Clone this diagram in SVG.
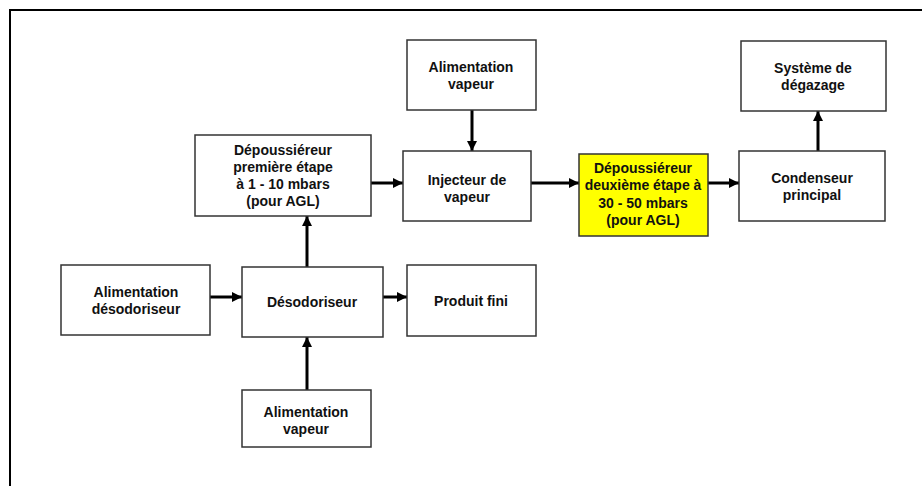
<svg xmlns="http://www.w3.org/2000/svg" width="922" height="486" viewBox="0 0 922 486">
<defs>
<style>
.box{fill:#fff;stroke:#333;stroke-width:1.5}
.hl{fill:#ffff00;stroke:#333;stroke-width:1.5}
.t{font-family:"Liberation Sans",Arial,sans-serif;font-weight:bold;font-size:14px;fill:#111;text-anchor:middle}
.c{stroke:#000;stroke-width:3;fill:none;marker-end:url(#ah)}
</style>
<marker id="ah" viewBox="0 0 10 10" refX="10" refY="5" markerWidth="3.4" markerHeight="3.4" markerUnits="strokeWidth" orient="auto">
<path d="M0,0 L10,5 L0,10 Z" fill="#000"/>
</marker>
</defs>
<rect width="922" height="486" fill="#fff"/>
<path d="M10,486 V10 H922" fill="none" stroke="#000" stroke-width="2"/>

<g id="connectors">
<path class="c" d="M472,110 V151"/>
<path class="c" d="M371,183 H403"/>
<path class="c" d="M531,183 H579"/>
<path class="c" d="M708,183 H739"/>
<path class="c" d="M818,151 V111"/>
<path class="c" d="M307,267 V216"/>
<path class="c" d="M210,297 H242"/>
<path class="c" d="M370,297 H407"/>
<path class="c" d="M307,390 V337"/>
</g>

<g id="alim-vapeur-haut">
<rect class="box" x="407" y="40" width="129" height="70"/>
<text class="t" x="471" y="72">Alimentation</text>
<text class="t" x="471" y="89">vapeur</text>
</g>
<g id="depoussiereur-1">
<rect class="box" x="195" y="135" width="176" height="81"/>
<text class="t" x="283" y="155">Dépoussiéreur</text>
<text class="t" x="283" y="172">première étape</text>
<text class="t" x="283" y="189">à 1 - 10 mbars</text>
<text class="t" x="283" y="206">(pour AGL)</text>
</g>
<g id="injecteur">
<rect class="box" x="403" y="151" width="128" height="70"/>
<text class="t" x="467" y="185">Injecteur de</text>
<text class="t" x="467" y="202">vapeur</text>
</g>
<g id="depoussiereur-2">
<rect class="hl" x="579" y="154" width="129" height="82"/>
<text class="t" x="643" y="173">Dépoussiéreur</text>
<text class="t" x="643" y="190">deuxième étape à</text>
<text class="t" x="643" y="208">30 - 50 mbars</text>
<text class="t" x="643" y="225">(pour AGL)</text>
</g>
<g id="condenseur">
<rect class="box" x="739" y="151" width="146" height="70"/>
<text class="t" x="812" y="183">Condenseur</text>
<text class="t" x="812" y="200">principal</text>
</g>
<g id="degazage">
<rect class="box" x="741" y="41" width="145" height="70"/>
<text class="t" x="813" y="73">Système de</text>
<text class="t" x="813" y="90">dégazage</text>
</g>
<g id="alim-desodoriseur">
<rect class="box" x="61" y="265" width="149" height="70"/>
<text class="t" x="136" y="297">Alimentation</text>
<text class="t" x="136" y="314">désodoriseur</text>
</g>
<g id="desodoriseur">
<rect class="box" x="242" y="267" width="141" height="70"/>
<text class="t" x="312" y="307">Désodoriseur</text>
</g>
<g id="produit-fini">
<rect class="box" x="407" y="265" width="129" height="71"/>
<text class="t" x="471" y="306">Produit fini</text>
</g>
<g id="alim-vapeur-bas">
<rect class="box" x="242" y="390" width="129" height="57"/>
<text class="t" x="306" y="417">Alimentation</text>
<text class="t" x="306" y="434">vapeur</text>
</g>
</svg>
